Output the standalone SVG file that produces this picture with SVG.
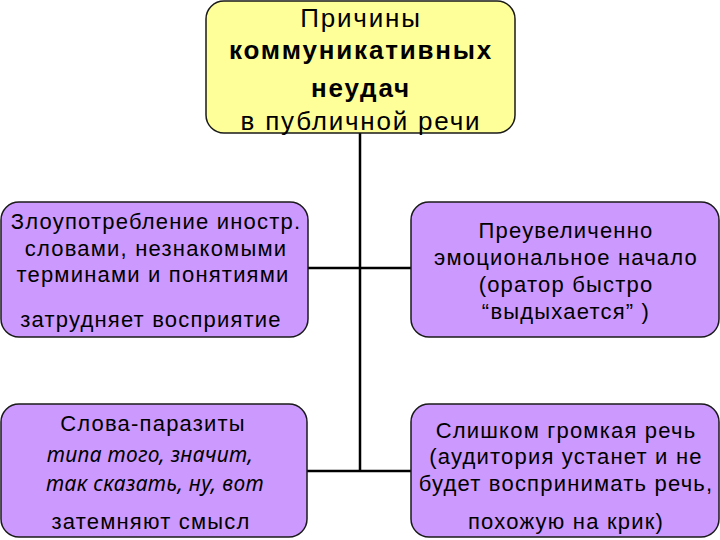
<svg xmlns="http://www.w3.org/2000/svg" width="720" height="540" viewBox="0 0 720 540">
<style>
.box{fill:#CC99FF;stroke:#1a1a1a;stroke-width:1.5}
.top{fill:#FFFF99;stroke:#1a1a1a;stroke-width:1.5}
text{font-family:"Liberation Sans",Arial,sans-serif;fill:#000;text-anchor:middle}
.t{font-size:26px;letter-spacing:1.8px}
.b{font-weight:bold}
.s{font-size:22px;letter-spacing:1.2px}
.i{font-family:"Noto Sans",sans-serif;font-style:italic;font-size:21px;letter-spacing:0.3px}
.conn{stroke:#000;stroke-width:2.5;fill:none}
</style>
<rect width="720" height="540" fill="#fff"/>
<g id="connectors">
<path class="conn" d="M360,133 V471"/>
<path class="conn" d="M308,268 H411"/>
<path class="conn" d="M307,471 H411"/>
</g>
<g id="root">
<rect class="top" x="206" y="1" width="309" height="132" rx="18"/>
<text class="t" x="361" y="27">Причины</text>
<text class="t b" x="361" y="59">коммуникативных</text>
<text class="t b" x="361" y="97">неудач</text>
<text class="t" x="361" y="130">в публичной речи</text>
</g>
<g id="n1">
<rect class="box" x="1" y="202" width="307" height="135" rx="18"/>
<text class="s" x="156" y="229">Злоупотребление иностр.</text>
<text class="s" x="156" y="256">словами, незнакомыми</text>
<text class="s" x="153" y="282">терминами и понятиями</text>
<text class="s" x="151" y="327">затрудняет восприятие</text>
</g>
<g id="n2">
<rect class="box" x="411" y="202" width="308" height="135" rx="18"/>
<text class="s" x="566" y="238">Преувеличенно</text>
<text class="s" x="566" y="265">эмоциональное начало</text>
<text class="s" x="566" y="292">(оратор быстро</text>
<text class="s" x="566" y="319">“выдыхается” )</text>
</g>
<g id="n3">
<rect class="box" x="1" y="404" width="306" height="133" rx="18"/>
<text class="s" x="153" y="431">Слова-паразиты</text>
<text class="s i" x="150" y="462">типа того, значит,</text>
<text class="s i" x="155" y="491">так сказать, ну, вот</text>
<text class="s" x="151" y="529">затемняют смысл</text>
</g>
<g id="n4">
<rect class="box" x="411" y="404" width="308" height="133" rx="18"/>
<text class="s" x="566" y="438">Слишком громкая речь</text>
<text class="s" x="566" y="464">(аудитория устанет и не</text>
<text class="s" x="566" y="491">будет воспринимать речь,</text>
<text class="s" x="566" y="529">похожую на крик)</text>
</g>
</svg>
